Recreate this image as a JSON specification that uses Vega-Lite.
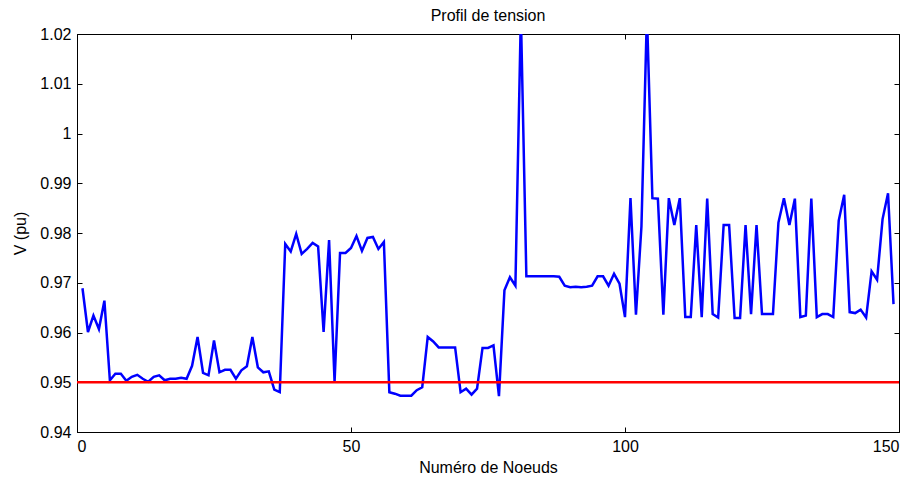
{
  "$schema": "https://vega.github.io/schema/vega-lite/v6.json",
  "autosize": {"type": "none"},
  "width": 822,
  "height": 398,
  "padding": {"left": 77, "top": 34, "right": 17, "bottom": 45},
  "background": "white",
  "title": {"text": "Profil de tension", "font": "Liberation Sans", "fontSize": 16, "fontWeight": "normal", "color": "black", "offset": 2, "anchor": "middle"},
  "config": {
    "view": {"stroke": "black", "strokeWidth": 1},
    "axis": {"labelFont": "Liberation Sans", "labelFontSize": 16, "labelColor": "black", "titleFont": "Liberation Sans", "titleFontSize": 16, "titleFontWeight": "normal", "titleColor": "black", "domainColor": "black", "tickColor": "black", "grid": false, "tickSize": -5}
  },
  "layer": [
    {
      "data": {"values": [
        {"noeud": 1, "v": 0.9689}, {"noeud": 2, "v": 0.9601}, {"noeud": 3, "v": 0.9634}, {"noeud": 4, "v": 0.9607}, {"noeud": 5, "v": 0.9664},
        {"noeud": 6, "v": 0.9504}, {"noeud": 7, "v": 0.9517}, {"noeud": 8, "v": 0.9517}, {"noeud": 9, "v": 0.9503}, {"noeud": 10, "v": 0.9511},
        {"noeud": 11, "v": 0.9515}, {"noeud": 12, "v": 0.9507}, {"noeud": 13, "v": 0.9501}, {"noeud": 14, "v": 0.9511}, {"noeud": 15, "v": 0.9514},
        {"noeud": 16, "v": 0.9504}, {"noeud": 17, "v": 0.9507}, {"noeud": 18, "v": 0.9507}, {"noeud": 19, "v": 0.9509}, {"noeud": 20, "v": 0.9507},
        {"noeud": 21, "v": 0.9533}, {"noeud": 22, "v": 0.9591}, {"noeud": 23, "v": 0.9519}, {"noeud": 24, "v": 0.9514}, {"noeud": 25, "v": 0.9584},
        {"noeud": 26, "v": 0.952}, {"noeud": 27, "v": 0.9525}, {"noeud": 28, "v": 0.9525}, {"noeud": 29, "v": 0.9507}, {"noeud": 30, "v": 0.9524},
        {"noeud": 31, "v": 0.9532}, {"noeud": 32, "v": 0.9591}, {"noeud": 33, "v": 0.953}, {"noeud": 34, "v": 0.952}, {"noeud": 35, "v": 0.9522},
        {"noeud": 36, "v": 0.9485}, {"noeud": 37, "v": 0.948}, {"noeud": 38, "v": 0.9778}, {"noeud": 39, "v": 0.9763}, {"noeud": 40, "v": 0.9798},
        {"noeud": 41, "v": 0.9758}, {"noeud": 42, "v": 0.9768}, {"noeud": 43, "v": 0.978}, {"noeud": 44, "v": 0.9773}, {"noeud": 45, "v": 0.9601},
        {"noeud": 46, "v": 0.9786}, {"noeud": 47, "v": 0.9501}, {"noeud": 48, "v": 0.976}, {"noeud": 49, "v": 0.976}, {"noeud": 50, "v": 0.977},
        {"noeud": 51, "v": 0.9794}, {"noeud": 52, "v": 0.9764}, {"noeud": 53, "v": 0.979}, {"noeud": 54, "v": 0.9792}, {"noeud": 55, "v": 0.9768},
        {"noeud": 56, "v": 0.9782}, {"noeud": 57, "v": 0.948}, {"noeud": 58, "v": 0.9477}, {"noeud": 59, "v": 0.9473}, {"noeud": 60, "v": 0.9473},
        {"noeud": 61, "v": 0.9473}, {"noeud": 62, "v": 0.9484}, {"noeud": 63, "v": 0.949}, {"noeud": 64, "v": 0.9591}, {"noeud": 65, "v": 0.9582},
        {"noeud": 66, "v": 0.957}, {"noeud": 67, "v": 0.957}, {"noeud": 68, "v": 0.957}, {"noeud": 69, "v": 0.957}, {"noeud": 70, "v": 0.948},
        {"noeud": 71, "v": 0.9487}, {"noeud": 72, "v": 0.9475}, {"noeud": 73, "v": 0.9487}, {"noeud": 74, "v": 0.9569}, {"noeud": 75, "v": 0.9569},
        {"noeud": 76, "v": 0.9574}, {"noeud": 77, "v": 0.9472}, {"noeud": 78, "v": 0.9685}, {"noeud": 79, "v": 0.9711}, {"noeud": 80, "v": 0.9694},
        {"noeud": 81, "v": 1.024}, {"noeud": 82, "v": 0.9713}, {"noeud": 83, "v": 0.9713}, {"noeud": 84, "v": 0.9713}, {"noeud": 85, "v": 0.9713},
        {"noeud": 86, "v": 0.9713}, {"noeud": 87, "v": 0.9713}, {"noeud": 88, "v": 0.9712}, {"noeud": 89, "v": 0.9694}, {"noeud": 90, "v": 0.9691},
        {"noeud": 91, "v": 0.9692}, {"noeud": 92, "v": 0.9691}, {"noeud": 93, "v": 0.9692}, {"noeud": 94, "v": 0.9694}, {"noeud": 95, "v": 0.9713},
        {"noeud": 96, "v": 0.9713}, {"noeud": 97, "v": 0.9694}, {"noeud": 98, "v": 0.9718}, {"noeud": 99, "v": 0.9698}, {"noeud": 100, "v": 0.9631},
        {"noeud": 101, "v": 0.987}, {"noeud": 102, "v": 0.9636}, {"noeud": 103, "v": 0.9813}, {"noeud": 104, "v": 1.024}, {"noeud": 105, "v": 0.987},
        {"noeud": 106, "v": 0.9869}, {"noeud": 107, "v": 0.9636}, {"noeud": 108, "v": 0.987}, {"noeud": 109, "v": 0.9816}, {"noeud": 110, "v": 0.987},
        {"noeud": 111, "v": 0.9631}, {"noeud": 112, "v": 0.9631}, {"noeud": 113, "v": 0.9816}, {"noeud": 114, "v": 0.9631}, {"noeud": 115, "v": 0.9869},
        {"noeud": 116, "v": 0.9637}, {"noeud": 117, "v": 0.963}, {"noeud": 118, "v": 0.9816}, {"noeud": 119, "v": 0.9816}, {"noeud": 120, "v": 0.9629},
        {"noeud": 121, "v": 0.9629}, {"noeud": 122, "v": 0.9816}, {"noeud": 123, "v": 0.9637}, {"noeud": 124, "v": 0.9816}, {"noeud": 125, "v": 0.9637},
        {"noeud": 126, "v": 0.9637}, {"noeud": 127, "v": 0.9637}, {"noeud": 128, "v": 0.9821}, {"noeud": 129, "v": 0.987}, {"noeud": 130, "v": 0.9816},
        {"noeud": 131, "v": 0.9869}, {"noeud": 132, "v": 0.9631}, {"noeud": 133, "v": 0.9634}, {"noeud": 134, "v": 0.9869}, {"noeud": 135, "v": 0.9631},
        {"noeud": 136, "v": 0.9637}, {"noeud": 137, "v": 0.9637}, {"noeud": 138, "v": 0.9631}, {"noeud": 139, "v": 0.9825}, {"noeud": 140, "v": 0.9877},
        {"noeud": 141, "v": 0.9641}, {"noeud": 142, "v": 0.9639}, {"noeud": 143, "v": 0.9646}, {"noeud": 144, "v": 0.963}, {"noeud": 145, "v": 0.9723},
        {"noeud": 146, "v": 0.9706}, {"noeud": 147, "v": 0.9828}, {"noeud": 148, "v": 0.988}, {"noeud": 149, "v": 0.9657}
      ]},
      "mark": {"type": "line", "color": "#0000ff", "strokeWidth": 2.5, "clip": true, "strokeJoin": "miter"},
      "encoding": {
        "x": {"field": "noeud", "type": "quantitative", "scale": {"domain": [0, 150], "nice": false}, "axis": {"orient": "bottom", "values": [0, 50, 100, 150], "title": "Numéro de Noeuds", "labelPadding": 11, "titlePadding": 5}},
        "y": {"field": "v", "type": "quantitative", "scale": {"domain": [0.94, 1.02], "nice": false, "zero": false}, "axis": {"orient": "left", "values": [0.94, 0.95, 0.96, 0.97, 0.98, 0.99, 1.0, 1.01, 1.02], "format": "~g", "title": "V (pu)", "labelPadding": 11, "titlePadding": 11}}
      }
    },
    {
      "data": {"values": [{"seuil": 0.95}]},
      "mark": {"type": "rule", "color": "#ff0000", "strokeWidth": 2.5},
      "encoding": {
        "y": {"field": "seuil", "type": "quantitative", "scale": {"domain": [0.94, 1.02], "nice": false, "zero": false}, "axis": {"orient": "right", "values": [0.94, 0.95, 0.96, 0.97, 0.98, 0.99, 1.0, 1.01, 1.02], "labels": false, "title": null, "domain": false}}
      }
    },
    {
      "data": {"values": [{"noeud": 0}]},
      "mark": {"type": "point", "opacity": 0},
      "encoding": {
        "x": {"field": "noeud", "type": "quantitative", "scale": {"domain": [0, 150], "nice": false}, "axis": {"orient": "top", "values": [0, 50, 100, 150], "labels": false, "title": null, "domain": false}}
      }
    }
  ],
  "resolve": {"axis": {"x": "independent", "y": "independent"}}
}
